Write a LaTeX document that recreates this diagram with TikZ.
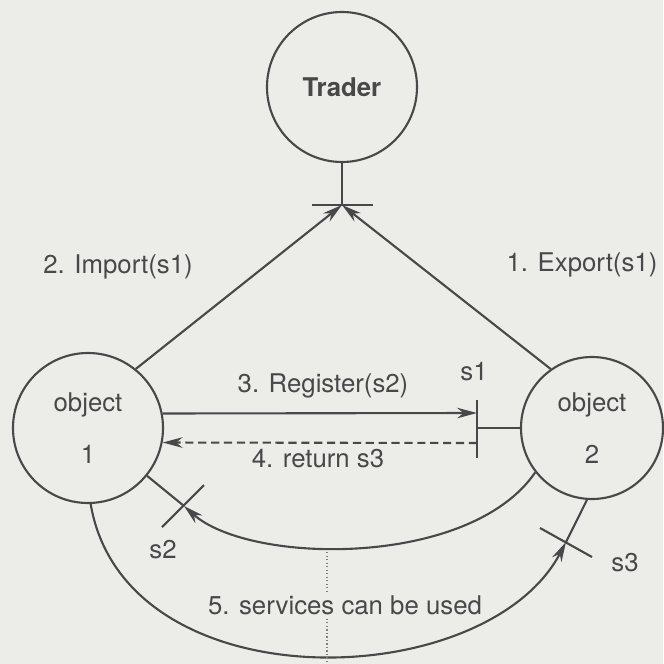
\documentclass[tikz,border=0pt]{standalone}
\usepackage{fontspec}
\setmainfont{TeX Gyre Heros}
\usetikzlibrary{arrows.meta}
\definecolor{ink}{RGB}{72,72,72}
\definecolor{paper}{RGB}{236,236,233}

\begin{document}
\begin{tikzpicture}[x=0.03cm,y=-0.03cm,line width=1.8pt,color=ink,
    every node/.style={font=\fontsize{22}{26}\selectfont},
    obj/.style={circle,draw,minimum size=4.5cm,inner sep=0pt,align=center},
    arr/.style={-{Stealth[length=17pt,width=9pt]}}]

    % Paper and picture size
    \fill[paper] (0,0) rectangle (663,664);
    \useasboundingbox (0,0) rectangle (663,664);

    % The three objects
    \node[obj,font=\bfseries\fontsize{22}{26}\selectfont] (trader) at (342,87) {Trader};
    \node[obj] (obj1) at (88,428) {object\\[19pt]1};
    \node[obj,minimum size=4.26cm] (obj2) at (592,428) {object\\[19pt]2};

    % Points where the connectors meet
    \coordinate (tb) at (342,205);
    \coordinate (reg) at (477,413);
    \coordinate (s1) at (477,428);
    \coordinate (ret) at (477,443);
    \coordinate (t2) at (184,506);
    \coordinate (t3) at (566,542);
    \coordinate (dtop) at (327,552);
    \coordinate (dbot) at (327,664);

    % Trader interface
    \draw (trader) -- (tb);
    \draw ([shift={(-30,0)}]tb) -- ([shift={(31,0)}]tb);
    \draw[arr] (obj1.51) -- (tb);
    \draw[arr] (obj2.125) -- (tb);

    % Register and return
    \draw[arr] (obj1.11.5) -- (reg);
    \draw ([shift={(0,-13)}]reg) -- ([shift={(0,45)}]reg);
    \draw (s1) -- (obj2.west);
    \draw[arr,dash pattern=on 7pt off 4pt] (ret) -- (obj1.-11.5);

    % Inner arc with s2
    \draw (obj1.-39) -- (t2);
    \draw[arr] (obj2.218) .. controls (470,568) and (250,565) .. (t2);
    \draw ([shift={(-22,21)}]t2) -- ([shift={(20,-21)}]t2);

    % Outer arc with s3
    \draw[arr] (obj1.-88) .. controls (125,705) and (486,695) .. (t3);
    \draw (t3) -- (obj2.-94);
    \draw ([shift={(-26,-14)}]t3) -- ([shift={(26,15)}]t3);

    % Dotted divider
    \draw[dotted,line width=1pt,gray] (dtop) -- (dbot);

    % Labels
    \node (imp) at (118,267) {2. Import(s1)};
    \node (exp) at (582,265) {1. Export(s1)};
    \node (regl) at (323,386) {3. Register(s2)};
    \node (retl) at (318,459) {4. return s3};
    \node (s1l) at (474,372) {s1};
    \node (s2l) at (163,550) {s2};
    \node (s3l) at (625,563) {s3};
    \node[fill=paper,inner sep=1pt] (use) at (345,605) {5. services can be used};

\end{tikzpicture}
\end{document}
